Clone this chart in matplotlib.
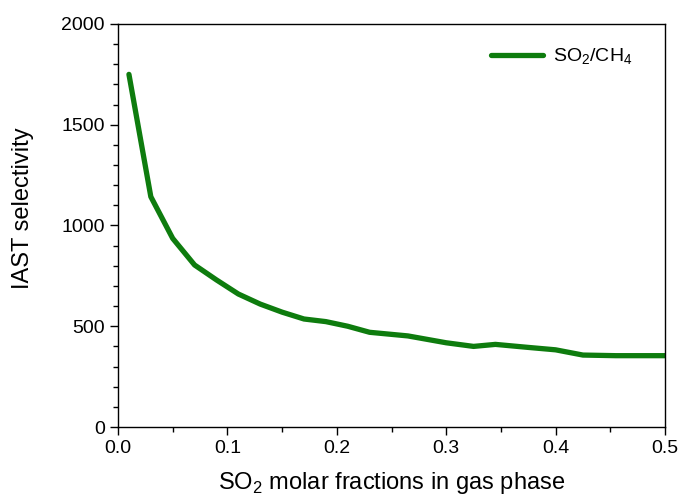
import numpy as np
import matplotlib.pyplot as plt
from matplotlib.ticker import MultipleLocator

# IAST selectivity of SO2 over CH4 vs SO2 fraction in the gas phase
so2_fraction = [0.01, 0.03, 0.05, 0.07, 0.09, 0.11, 0.13, 0.15, 0.17, 0.19,
                0.21, 0.23, 0.265, 0.30, 0.325, 0.345, 0.375, 0.40, 0.425,
                0.455, 0.50]
selectivity = [1750, 1143, 936, 804, 730, 660, 610, 570, 536, 523,
               500, 470, 452, 418, 400, 410, 395, 383, 357,
               354, 354]

plt.rcParams["font.family"] = ["Liberation Sans", "DejaVu Sans"]
plt.rcParams["mathtext.fontset"] = "custom"
plt.rcParams["mathtext.rm"] = "Liberation Sans"

fig = plt.figure(figsize=(6.84, 5.04), dpi=100)
ax = fig.add_axes([118 / 684, 1 - 427 / 504, 547 / 684, 403 / 504])

ax.plot(so2_fraction, selectivity, color="#0e7c0e", lw=3.8,
        solid_capstyle="round", label=r"SO$_2$/CH$_4$")

ax.set_xlim(0, 0.5)
ax.set_ylim(0, 2000)
ax.xaxis.set_major_locator(MultipleLocator(0.1))
ax.xaxis.set_minor_locator(MultipleLocator(0.05))
ax.yaxis.set_major_locator(MultipleLocator(500))
ax.yaxis.set_minor_locator(MultipleLocator(100))
ax.xaxis.set_major_formatter(plt.FormatStrFormatter("%.1f"))

ax.tick_params(which="both", direction="out", top=False, right=False,
               labelsize=14, width=1.0, pad=3.5)
ax.tick_params(which="major", length=6)
ax.tick_params(which="minor", length=3.5)
for s in ax.spines.values():
    s.set_linewidth(1.0)

ax.set_xlabel(r"SO$_2$ molar fractions in gas phase", fontsize=17, va="center")
ax.set_ylabel("IAST selectivity", fontsize=17, va="center")
ax.xaxis.set_label_coords(0.5, -0.139)
ax.yaxis.set_label_coords(-0.174, 0.542)

ax.legend(loc="upper right", bbox_to_anchor=(0.954, 0.962), borderaxespad=0,
          frameon=False, fontsize=14, handlelength=2.65, handletextpad=0.5)

fig.savefig("out.png", dpi=100)
